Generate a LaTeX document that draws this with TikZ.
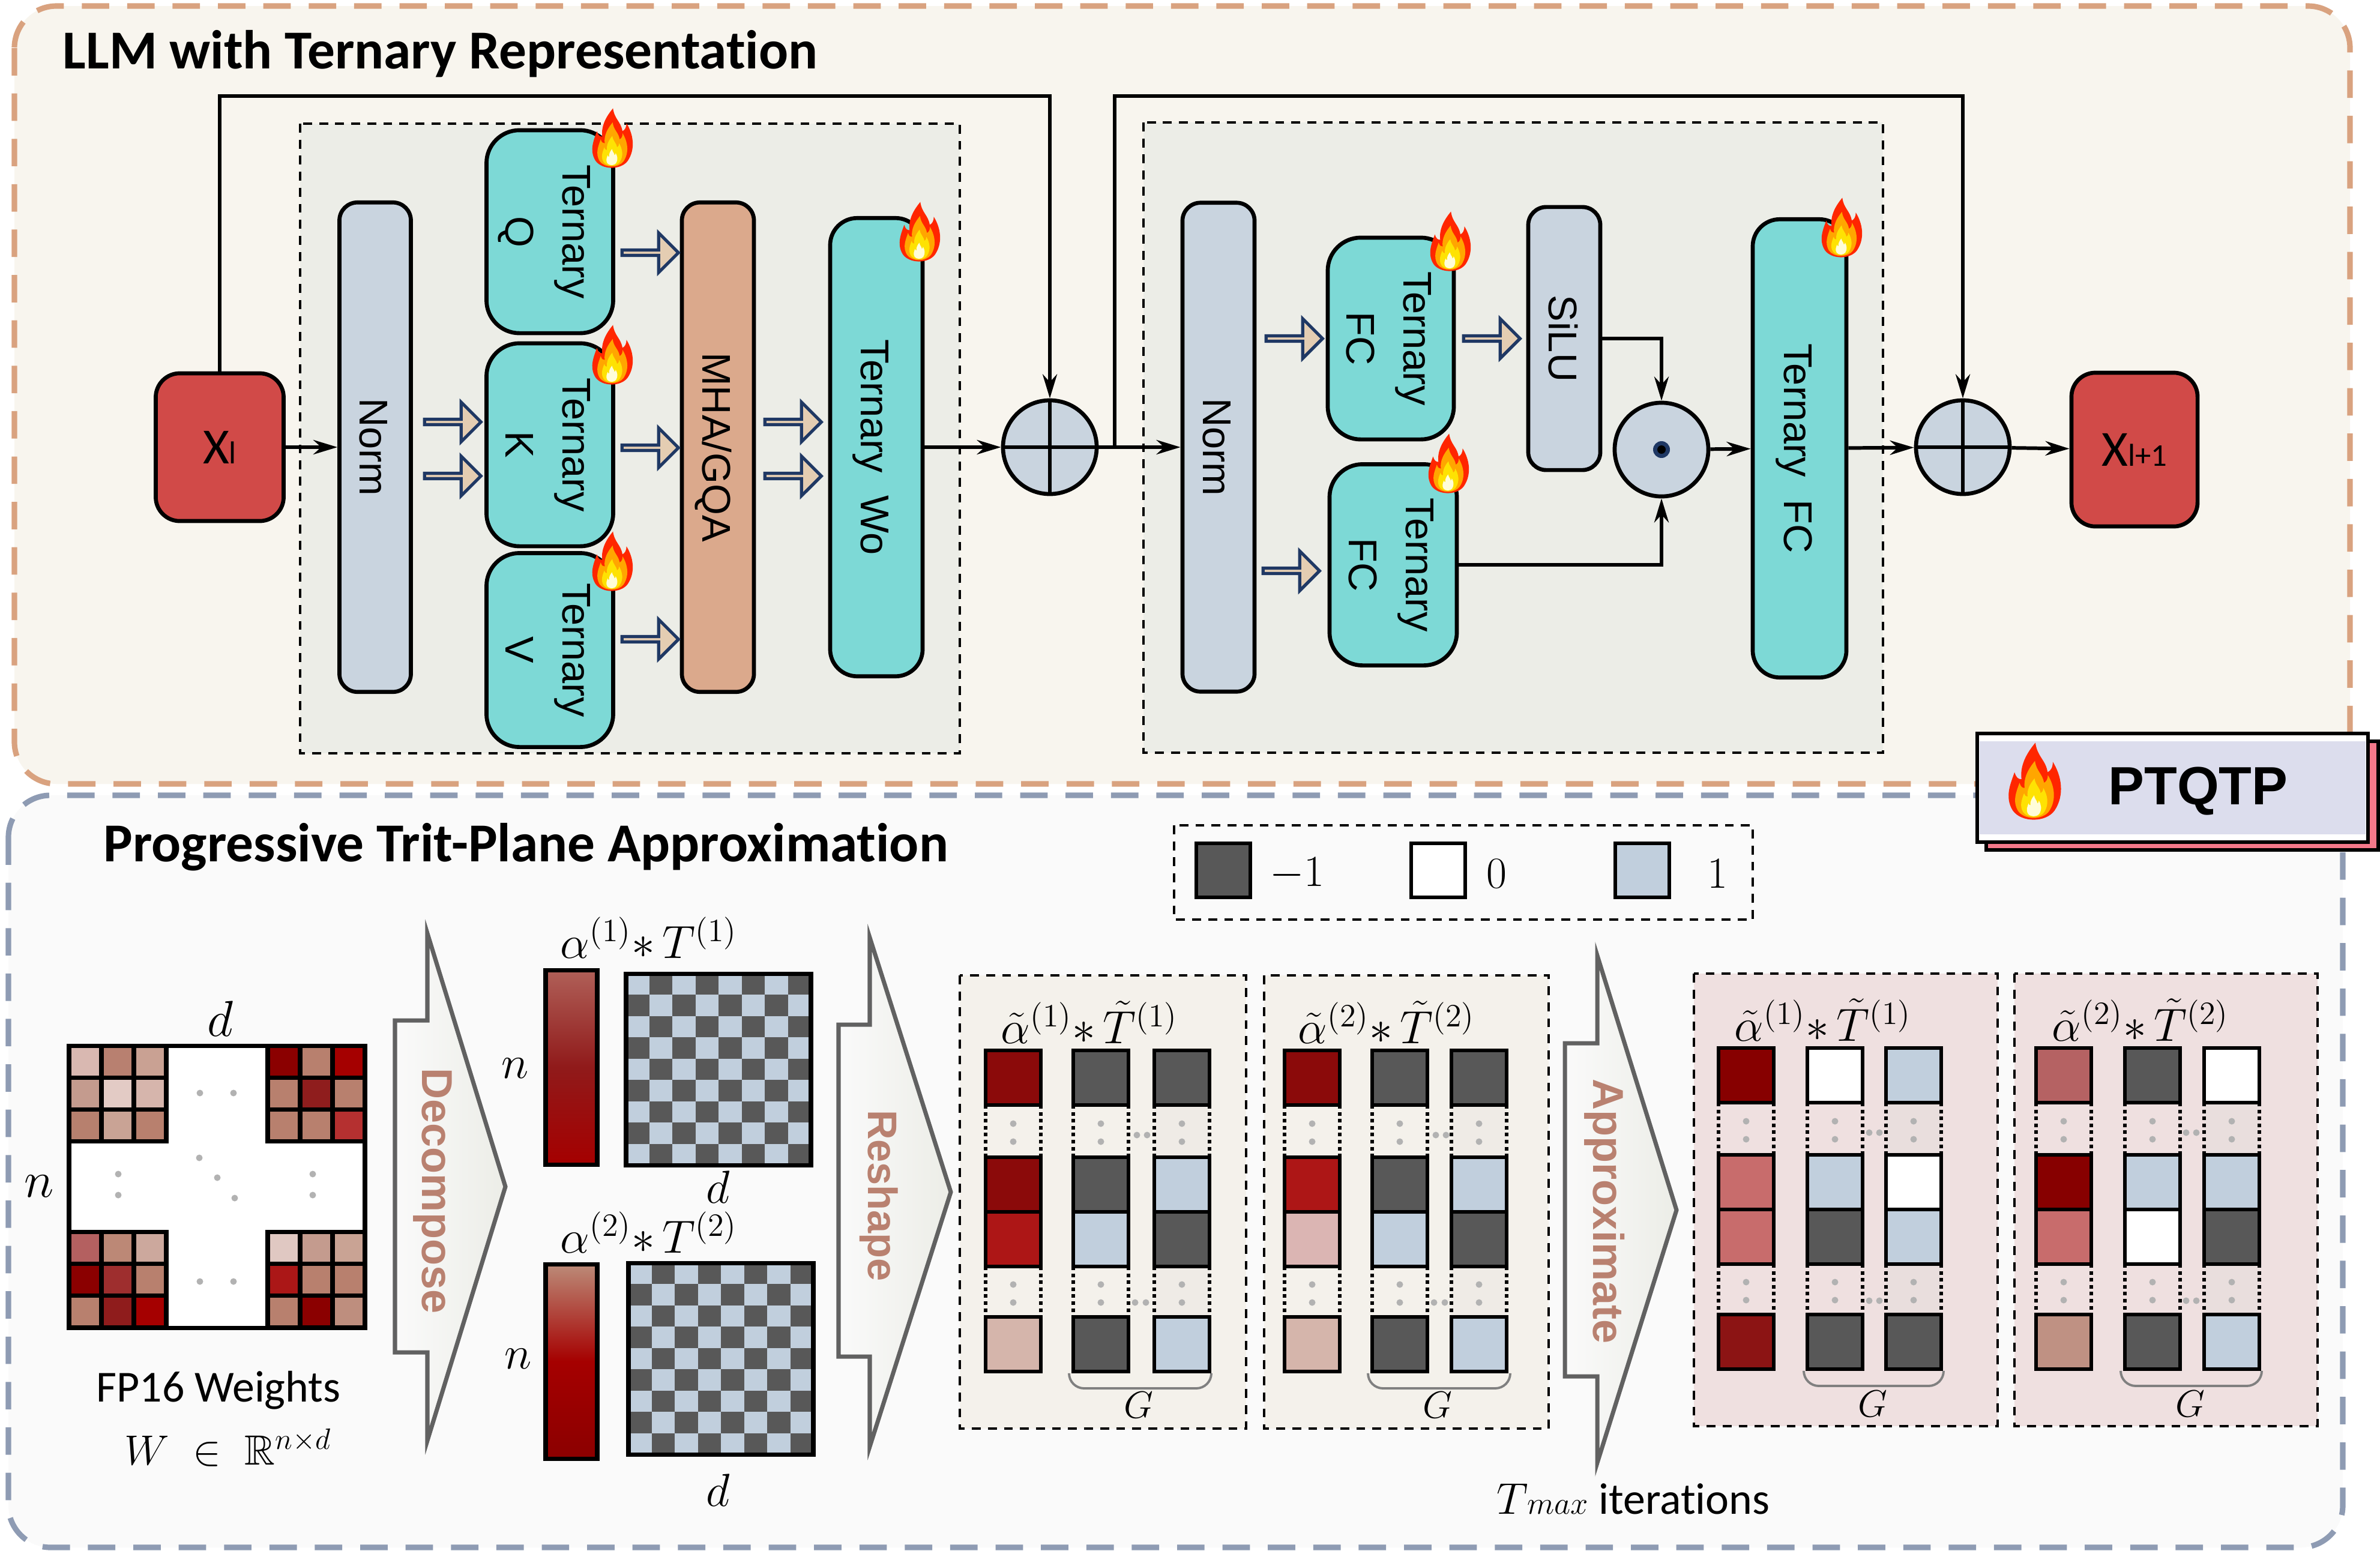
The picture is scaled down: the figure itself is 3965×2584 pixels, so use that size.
\documentclass[tikz,border=0pt]{standalone}
\usepackage{fix-cm}
\usepackage{amsmath,amssymb}
\usepackage{graphicx}
\usepackage{fontspec}
\usetikzlibrary{arrows.meta,shapes.arrows}
\newfontfamily\calfont[Ligatures=NoCommon]{Carlito}
\newfontfamily\arialfont{Liberation Sans}

\definecolor{edgeorange}{HTML}{D9A27F}
\definecolor{edgeslate}{HTML}{8E9BB3}
\definecolor{panelcream}{HTML}{F8F5EE}
\definecolor{panelgrey}{HTML}{FAFAFA}
\definecolor{innergrey}{HTML}{ECEDE7}
\definecolor{xred}{HTML}{D14A48}
\definecolor{normblue}{HTML}{C9D4DF}
\definecolor{ternteal}{HTML}{7DD9D6}
\definecolor{mhatan}{HTML}{DBA98C}
\definecolor{navyline}{HTML}{1F3864}
\definecolor{fattan}{HTML}{E4CDB2}
\definecolor{tritdark}{HTML}{585858}
\definecolor{tritlight}{HTML}{C1CFDD}
\definecolor{wordrose}{HTML}{B98170}
\definecolor{bartopa}{HTML}{B06058}
\definecolor{barmida}{HTML}{901A1A}
\definecolor{barlowa}{HTML}{A50000}
\definecolor{bartopb}{HTML}{BC8B78}
\definecolor{barlowb}{HTML}{8B0000}
\definecolor{reshapecream}{HTML}{F4F1EB}
\definecolor{approxrose}{HTML}{EFE0E0}
\definecolor{gapcream}{HTML}{EFEBE6}
\definecolor{gaprose}{HTML}{E9DEDD}
\definecolor{tagpink}{HTML}{F4788A}
\definecolor{tagband}{HTML}{DCDDED}

\tikzset{
  >={Stealth[length=4mm,width=2.4mm]},
  conn/.style={line width=1.7pt},
  block/.style={draw,line width=1.9pt,inner sep=0pt,font=\arialfont\fontsize{19}{27}\selectfont},
  normbox/.style={block,fill=normblue,rounded corners=3mm},
  ternbox/.style={block,fill=ternteal,rounded corners=5.5mm},
  xbox/.style={block,fill=xred,rounded corners=4mm,font=\calfont\fontsize{24}{24}\selectfont},
  opnode/.style={circle,draw,line width=1.9pt,fill=normblue,minimum size=1.56cm,inner sep=0pt},
  fatarrow/.style={single arrow,draw=navyline,fill=fattan,line width=1.5pt,inner sep=0pt,
    minimum width=.66cm,minimum height=.94cm,single arrow head extend=.17cm},
  outerpanel/.style={rounded corners=7mm,line width=2.6pt,dash pattern=on 13pt off 8.5pt},
  innerbox/.style={draw,line width=1.1pt,dash pattern=on 4.2pt off 3.4pt},
  bigarrow/.style={draw=black!62,line width=2pt,left color=panelgrey,right color=innergrey,miter limit=10},
  bigword/.style={text=wordrose,inner sep=0pt,font=\arialfont\bfseries\fontsize{20.5}{20.5}\selectfont},
  mathlab/.style={inner sep=0pt,font=\fontsize{22}{26}\selectfont},
  tritcell/.style={draw,line width=1.9pt},
  gapline/.style={line width=1.5pt,dash pattern=on 1.7pt off 1.6pt},
  dotgrey/.style={fill=black!30},
  groupcurve/.style={draw=black!50,line width=1.1pt,rounded corners=2.5mm},
  legsq/.style={draw,line width=1.9pt,minimum size=.9cm,inner sep=0pt},
  weightline/.style={draw,line width=2pt},
  flame/.pic={
    \fill[red!70!orange,shift={(0,0)}] \flamepath;
    \fill[orange!70!yellow,shift={(0,9)},scale=.74] \flamepath;
    \fill[yellow!85!orange,shift={(0,18)},scale=.5] \flamepath;
    \fill[yellow!15,shift={(0,27)},scale=.27] \flamepath;
  }
}

\newcommand{\flamepath}{(2,-46) .. controls (4,-30) and (14,-26) .. (16,-12) .. controls (20,-14) and (22,-18) .. (22,-24) .. controls (32,-8) and (36,14) .. (24,32) .. controls (14,46) and (-14,46) .. (-24,32) .. controls (-34,16) and (-26,0) .. (-22,-12) .. controls (-20,-6) and (-18,-4) .. (-14,-4) .. controls (-16,-20) and (-8,-34) .. (2,-46) -- cycle}
\newcommand{\turn}[1]{\kern-1.4mm\rotatebox{-90}{\begin{tabular}{@{}c@{}}#1\end{tabular}}}

% one 3x3 corner of the weight matrix
\newcommand{\weightblock}[3]{
  \foreach \hexc [count=\i from 0] in {#3}{
    \pgfmathtruncatemacro\cellc{mod(\i,3)}
    \pgfmathtruncatemacro\cellr{int(\i/3)}
    \definecolor{cellfill}{HTML}{\hexc}
    \draw[weightline,fill=cellfill] ({#1+\cellc*54},{#2+\cellr*53.3}) rectangle ++(54,53.3);
  }
}
% checker plane
\newcommand{\checkerplane}[2]{
  \fill[tritdark] (#1,#2) rectangle ++(308,319);
  \foreach \cr in {0,...,8}{
    \foreach \cc in {0,...,7}{
      \pgfmathtruncatemacro\cellp{mod(\cr+\cc,2)}
      \ifnum\cellp=0
        \fill[tritlight] ({#1+\cc*38.5},{#2+\cr*35.44}) rectangle ++(38.5,35.44);
      \fi
    }
  }
  \draw[weightline] (#1,#2) rectangle ++(308,319);
}
% one column of reshaped planes, corner at #2,#3
\newcommand{\tritcol}[7][none]{
  \begin{scope}[shift={(#2,#3)}]
    \path[fill=#1] (0,91) rectangle (92,178) (0,360) rectangle (92,444);
    \draw[gapline] (0,91) -- (0,178) (92,91) -- (92,178) (0,360) -- (0,444) (92,360) -- (92,444);
    \foreach \dy in {122,152,390,420}{
      \fill[dotgrey] (46,\dy) circle[radius=5.5];
    }
    \foreach \rowy/\hexc in {0/#4,178/#5,269/#6,444/#7}{
      \definecolor{cellfill}{HTML}{\hexc}
      \draw[tritcell,fill=cellfill] (0,\rowy) rectangle ++(92,91);
    }
  \end{scope}
}
\newcommand{\weightdots}[1]{
  \foreach \dx/\dy in {#1}{
    \fill[dotgrey] (\dx,\dy) circle[radius=5.5];
  }
}

\begin{document}
\begin{tikzpicture}[x=0.01cm,y=-0.01cm]
  \useasboundingbox[fill=white] (0,0) rectangle (3965,2584);

  % panels
  \draw[outerpanel,edgeorange,fill=panelcream] (24,10) rectangle (3915,1306);
  \draw[outerpanel,edgeslate,fill=panelgrey] (14,1325) rectangle (3903,2578);
  \node[anchor=west,inner sep=0pt,font=\calfont\bfseries\fontsize{26}{26}\selectfont] (titlea) at (104,90) {LLM with Ternary Representation};
  \node[anchor=west,inner sep=0pt,font=\calfont\bfseries\fontsize{26}{26}\selectfont] (titleb) at (172,1411) {Progressive Trit-Plane Approximation};
  \draw[innerbox,fill=innergrey] (500,206) rectangle (1599,1255);
  \draw[innerbox,fill=innergrey] (1905,204) rectangle (3137,1254);

  % attention block
  \node[xbox,minimum width=2.13cm,minimum height=2.46cm] (xl) at (366,745) {X{\fontsize{15}{15}\selectfont l}};
  \node[normbox,minimum width=1.19cm,minimum height=8.15cm] (norma) at (625,745) {\turn{Norm}};
  \node[ternbox,minimum width=2.11cm,minimum height=3.38cm] (tq) at (916,386) {\turn{Ternary\\Q}};
  \node[ternbox,minimum width=2.11cm,minimum height=3.38cm] (tk) at (916,741) {\turn{Ternary\\K}};
  \node[ternbox,minimum width=2.11cm,minimum height=3.23cm] (tv) at (916,1083) {\turn{Ternary\\V}};
  \node[block,fill=mhatan,rounded corners=3mm,minimum width=1.2cm,minimum height=8.15cm] (mha) at (1196,745) {\turn{MHA/GQA}};
  \node[ternbox,rounded corners=4.5mm,minimum width=1.54cm,minimum height=7.63cm] (wo) at (1460,745) {\turn{Ternary~~Wo}};
  \node[opnode] (plusa) at (1749,745) {};

  % feed forward block
  \node[normbox,minimum width=1.2cm,minimum height=8.14cm] (normb) at (2030,745) {\turn{Norm}};
  \node[ternbox,minimum width=2.1cm,minimum height=3.36cm] (fca) at (2317,564) {\turn{Ternary\\FC}};
  \node[ternbox,minimum width=2.12cm,minimum height=3.35cm] (fcb) at (2321,941) {\turn{Ternary\\FC}};
  \node[normbox,minimum width=1.2cm,minimum height=4.38cm] (silu) at (2606,564) {\turn{SiLU}};
  \node[opnode] (dotop) at (2768,749) {};
  \node[circle,fill=navyline,minimum size=.28cm,inner sep=0pt] (dotmark) at (dotop) {};
  \node[circle,fill=black,minimum size=.14cm,inner sep=0pt] (dotcore) at (dotop) {};
  \node[ternbox,rounded corners=4.5mm,minimum width=1.56cm,minimum height=7.63cm] (fcc) at (2998,747) {\turn{Ternary~~FC}};
  \node[opnode] (plusb) at (3270,745) {};
  \node[xbox,minimum width=2.1cm,minimum height=2.56cm] (xo) at (3556,749) {X{\fontsize{15}{15}\selectfont l+1}};

  % flames
  \pic[scale=1.12] at (1019,232) {flame};
  \pic[scale=1.12] at (1019,593) {flame};
  \pic[scale=1.12] at (1019,937) {flame};
  \pic[scale=1.12] at (1531,388) {flame};
  \pic[scale=1.12] at (2415,404) {flame};
  \pic[scale=1.12] at (2412,774) {flame};
  \pic[scale=1.12] at (3067,381) {flame};

  % hollow arrows
  \node[fatarrow] (fa) at (752,703) {};
  \node[fatarrow] (fb) at (752,793) {};
  \node[fatarrow] (fc) at (1081,421) {};
  \node[fatarrow] (fd) at (1081,746) {};
  \node[fatarrow] (fe) at (1081,1065) {};
  \node[fatarrow] (ff) at (1319,703) {};
  \node[fatarrow] (fg) at (1319,793) {};
  \node[fatarrow] (fh) at (2154,564) {};
  \node[fatarrow] (fi) at (2149,951) {};
  \node[fatarrow] (fj) at (2483,564) {};

  % connectors
  \coordinate (raila) at (366,160);
  \coordinate (railb) at (1857,160);
  \coordinate (split) at (1857,745);
  \draw[conn,->] (xl) -- (norma);
  \draw[conn,->] (xl.north) -- (raila) -| (plusa.north);
  \draw[conn,->] (wo) -- (plusa);
  \draw[conn,->] (plusa) -- (normb);
  \draw[conn,->] (split) -- (railb) -| (plusb.north);
  \draw[conn,->] (silu.east) -| (dotop.north);
  \draw[conn,->] (fcb.east) -| (dotop.south);
  \draw[conn,->] (dotop) -- (fcc);
  \draw[conn,->] (fcc) -- (plusb);
  \draw[conn,->] (plusb) -- (xo);
  \draw[conn] (plusa.north) -- (plusa.south) (plusa.west) -- (plusa.east);
  \draw[conn] (plusb.north) -- (plusb.south) (plusb.west) -- (plusb.east);

  % PTQTP tag
  \draw[line width=1.7pt,fill=tagpink] (3309,1235) rectangle (3962,1416);
  \draw[line width=1.7pt,fill=white] (3294,1222) rectangle (3945,1403);
  \fill[tagband] (3298,1235) rectangle (3941,1390);
  \pic[scale=1.45] at (3388,1304) {flame};
  \node[inner sep=0pt,font=\arialfont\bfseries\fontsize{25.5}{25.5}\selectfont] (ptqtp) at (3662,1318) {PTQTP};

  % legend
  \draw[innerbox] (1956,1375) rectangle (2920,1532);
  \node[legsq,fill=tritdark] (legm) at (2038,1450) {};
  \node[legsq,fill=white] (legz) at (2396,1450) {};
  \node[legsq,fill=tritlight] (lego) at (2736,1450) {};
  \node[mathlab] (legmt) at (2161,1456) {\fontsize{21}{21}\selectfont$-1$};
  \node[mathlab] (legzt) at (2493,1456) {\fontsize{21}{21}\selectfont$0$};
  \node[mathlab] (legot) at (2861,1456) {\fontsize{21}{21}\selectfont$1$};

  % fp16 weights
  \draw[weightline,fill=white] (115,1742) rectangle (608,2212);
  \weightblock{115}{1742}{D9B8B1,B88070,C9A193,C49B8E,E3CBC5,D6B5AC,B7806E,C9A395,B8806E}
  \weightblock{446}{1742}{8B0000,B8806E,A50000,B8806E,8F1D1D,B8806E,B8806E,B8806E,B53030}
  \weightblock{115}{2052}{B46060,BC8876,CCA89D,8B0000,9E2E2E,B8806E,B8806E,8F1C1C,A50000}
  \weightblock{446}{2052}{E0C8C2,C49B8E,C9A394,AB1717,B8806E,B8806E,B8806E,8B0000,BE8E7E}
  \weightdots{333/1821,389/1821,333/2135,389/2135,197/1956,197/1991,521/1956,521/1991,332/1929,362/1962,391/1996}
  \node[mathlab,font=\fontsize{24}{24}\selectfont] (wd) at (367,1697) {$d$};
  \node[mathlab,font=\fontsize{24}{24}\selectfont] (wn) at (65,1976) {$n$};
  \node[inner sep=0pt,font=\calfont\fontsize{21}{21}\selectfont] (wname) at (364,2316) {FP16 Weights};
  \node[mathlab,font=\fontsize{20}{26}\selectfont] (wset) at (380,2412) {$W\;\in\;\mathbb{R}^{n\times d}$};

  % big arrows
  \draw[bigarrow] (658,1700) -- (712,1700) -- (712,1555) -- (842,1977) -- (712,2400) -- (712,2253) -- (658,2253) -- cycle;
  \node[bigword] (worda) at (725,1984) {\turn{Decompose}};
  \draw[bigarrow] (1397,1707) -- (1449,1707) -- (1449,1562) -- (1584,1986) -- (1449,2410) -- (1449,2260) -- (1397,2260) -- cycle;
  \node[bigword,font=\arialfont\bfseries\fontsize{19.5}{19.5}\selectfont] (wordb) at (1468,1992) {\turn{Reshape}};
  \draw[bigarrow] (2607,1738) -- (2661,1738) -- (2661,1592) -- (2793,2016) -- (2661,2437) -- (2661,2293) -- (2607,2293) -- cycle;
  \node[bigword] (wordc) at (2677,2018) {\turn{Approximate}};

  % decomposed bars and planes
  \draw[weightline,top color=bartopa,bottom color=barlowa,middle color=barmida] (909,1616) rectangle (995,1940);
  \draw[weightline,top color=bartopb,bottom color=barlowb,middle color=barlowa] (909,2106) rectangle (995,2430);
  \checkerplane{1043}{1622}
  \checkerplane{1047}{2104}
  \node[mathlab] (terma) at (1081,1562) {$\alpha^{(1)}{*}\,T^{(1)}$};
  \node[mathlab] (termb) at (1081,2053) {$\alpha^{(2)}{*}\,T^{(2)}$};
  \node[mathlab] (na) at (858,1780) {$n$};
  \node[mathlab] (nb) at (863,2264) {$n$};
  \node[mathlab] (da) at (1196,1978) {$d$};
  \node[mathlab] (db) at (1196,2483) {$d$};

  % reshaped panels
  \draw[innerbox,fill=reshapecream] (1599,1625) rectangle (2076,2380);
  \draw[innerbox,fill=reshapecream] (2106,1625) rectangle (2580,2380);
  \draw[innerbox,fill=approxrose] (2822,1622) rectangle (3328,2376);
  \draw[innerbox,fill=approxrose] (3356,1622) rectangle (3861,2376);

  \tritcol{1642}{1750}{8B0A0A}{8B0A0A}{AD1616}{D5B5AB}
  \tritcol{1788}{1750}{585858}{585858}{C1CFDD}{585858}
  \tritcol[gapcream]{1923}{1750}{585858}{C1CFDD}{585858}{C1CFDD}
  \tritcol{2140}{1750}{8B0A0A}{AD1616}{DBB5B3}{D5B5AB}
  \tritcol{2286}{1750}{585858}{585858}{C1CFDD}{585858}
  \tritcol[gapcream]{2418}{1750}{585858}{C1CFDD}{585858}{C1CFDD}
  \tritcol{2863}{1746}{870000}{C86C6C}{C86C6C}{8C1414}
  \tritcol{3011}{1746}{FFFFFF}{C1CFDD}{585858}{585858}
  \tritcol[gaprose]{3142}{1746}{C1CFDD}{FFFFFF}{C1CFDD}{585858}
  \tritcol{3392}{1746}{B56263}{870000}{C86C6C}{BF9183}
  \tritcol{3540}{1746}{585858}{C1CFDD}{FFFFFF}{585858}
  \tritcol[gaprose]{3672}{1746}{FFFFFF}{C1CFDD}{585858}{C1CFDD}
  \weightdots{1894/1891,1911/1891,1891/2170,1909/2170,2392/1891,2409/1891,2389/2170,2407/2170,3114/1887,3131/1887,3114/2167,3131/2167,3642/1887,3659/1887,3642/2167,3659/2167}

  \draw[groupcurve] (1781,2288) -- (1781,2313) -- (2018,2313) -- (2018,2288);
  \draw[groupcurve] (2279,2288) -- (2279,2313) -- (2516,2313) -- (2516,2288);
  \draw[groupcurve] (3005,2286) -- (3005,2309) -- (3238,2309) -- (3238,2286);
  \draw[groupcurve] (3533,2286) -- (3533,2309) -- (3768,2309) -- (3768,2286);
  \node[mathlab,font=\fontsize{18}{18}\selectfont] (ga) at (1897,2341) {$G$};
  \node[mathlab,font=\fontsize{18}{18}\selectfont] (gb) at (2395,2341) {$G$};
  \node[mathlab,font=\fontsize{18}{18}\selectfont] (gc) at (3120,2339) {$G$};
  \node[mathlab,font=\fontsize{18}{18}\selectfont] (gd) at (3649,2339) {$G$};

  \node[mathlab] (tla) at (1815,1703) {$\tilde{\alpha}^{(1)}{*}\,\tilde{T}^{(1)}$};
  \node[mathlab] (tlb) at (2310,1703) {$\tilde{\alpha}^{(2)}{*}\,\tilde{T}^{(2)}$};
  \node[mathlab] (tlc) at (3037,1699) {$\tilde{\alpha}^{(1)}{*}\,\tilde{T}^{(1)}$};
  \node[mathlab] (tld) at (3566,1699) {$\tilde{\alpha}^{(2)}{*}\,\tilde{T}^{(2)}$};

  \node[inner sep=0pt,font=\calfont\fontsize{21}{21}\selectfont] (iters) at (2721,2497) {\fontsize{21}{21}\selectfont$T$\kern-.5pt{\fontsize{15}{15}\selectfont$max$}\kern5pt iterations};
\end{tikzpicture}
\end{document}
